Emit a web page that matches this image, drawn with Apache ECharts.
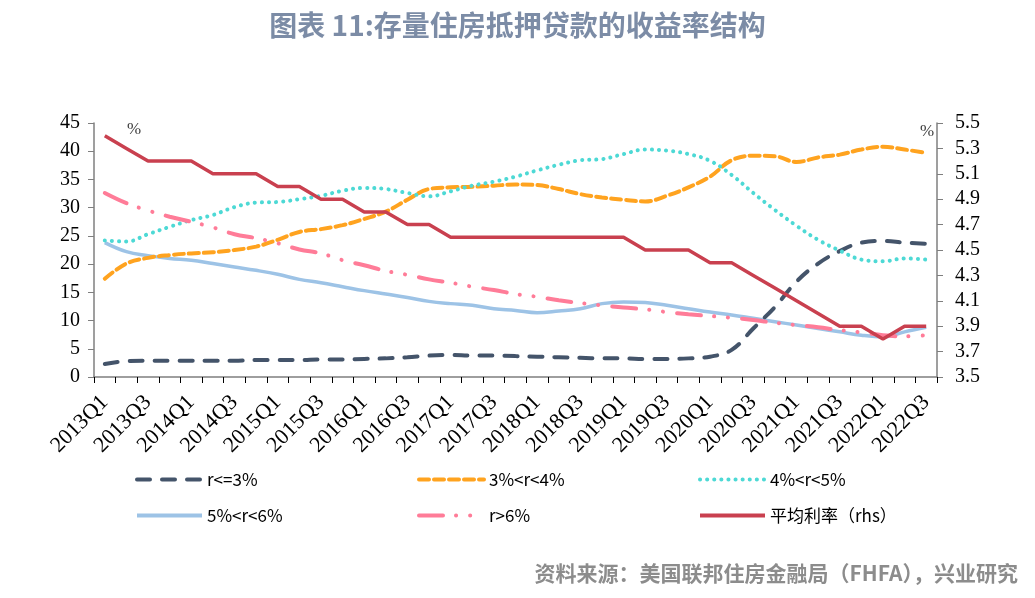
<!DOCTYPE html>
<html>
<head>
<meta charset="utf-8">
<script src="https://cdn.jsdelivr.net/npm/echarts@6/dist/echarts.min.js"></script>
<style>html,body{margin:0;padding:0;background:#fff;}#c{width:1035px;height:598px;}</style>
</head>
<body>
<div id="c"></div>
<script>
var categories = [];
for (var y = 2013; y <= 2022; y++) { for (var q = 1; q <= 4; q++) { if (y === 2022 && q > 3) break; categories.push(y + 'Q' + q); } }

var leftTicks = { min: 0, max: 45, interval: 5 };
var rightTicks = { min: 3.5, max: 5.5, interval: 0.2 };

var rLe3 = [2.3, 2.8, 2.9, 2.9, 2.9, 2.9, 2.9, 3.0, 3.0, 3.0, 3.1, 3.1, 3.2, 3.3, 3.5, 3.8, 3.9, 3.8, 3.8, 3.7, 3.6, 3.5, 3.4, 3.3, 3.3, 3.2, 3.2, 3.3, 3.6, 4.8, 8.6, 12.4, 16.9, 20.1, 22.3, 23.8, 24.1, 23.8, 23.6];
var r3to4 = [17.4, 20.1, 21.1, 21.6, 21.9, 22.1, 22.5, 23.1, 24.3, 25.7, 26.2, 26.9, 28.0, 29.3, 31.4, 33.3, 33.6, 33.7, 33.9, 34.1, 34.0, 33.3, 32.4, 31.8, 31.4, 31.1, 32.1, 33.6, 35.5, 38.4, 39.2, 39.1, 38.1, 38.9, 39.4, 40.3, 40.8, 40.3, 39.7];
var r4to5 = [24.2, 24.0, 25.3, 26.6, 27.8, 28.7, 30.1, 30.9, 31.0, 31.5, 32.1, 33.0, 33.5, 33.3, 32.6, 32.0, 32.9, 33.9, 34.6, 35.5, 36.6, 37.6, 38.4, 38.6, 39.5, 40.3, 40.1, 39.5, 38.3, 35.8, 32.6, 29.6, 26.8, 24.3, 22.4, 20.8, 20.5, 21.0, 20.8];
var r5to6 = [23.8, 22.2, 21.5, 21.0, 20.7, 20.1, 19.5, 18.9, 18.2, 17.3, 16.7, 16.0, 15.3, 14.7, 14.1, 13.4, 13.0, 12.7, 12.1, 11.8, 11.4, 11.7, 12.1, 13.0, 13.3, 13.2, 12.7, 12.1, 11.5, 11.0, 10.4, 9.8, 9.2, 8.6, 8.0, 7.4, 7.1, 8.0, 8.8];
var rGt6 = [32.6, 30.8, 29.5, 28.4, 27.5, 26.5, 25.3, 24.6, 23.7, 22.6, 21.9, 20.7, 19.8, 18.8, 18.1, 17.3, 16.7, 16.0, 15.4, 14.7, 14.2, 13.6, 13.1, 12.7, 12.3, 12.0, 11.5, 11.1, 10.8, 10.5, 10.1, 9.6, 9.2, 8.8, 8.3, 7.9, 7.4, 7.2, 7.4];
var avgRate = [5.4, 5.3, 5.2, 5.2, 5.2, 5.1, 5.1, 5.1, 5.0, 5.0, 4.9, 4.9, 4.8, 4.8, 4.7, 4.7, 4.6, 4.6, 4.6, 4.6, 4.6, 4.6, 4.6, 4.6, 4.6, 4.5, 4.5, 4.5, 4.4, 4.4, 4.3, 4.2, 4.1, 4.0, 3.9, 3.9, 3.8, 3.9, 3.9];

var names = ['r<=3%', '3%<r<4%', '4%<r<5%', '5%<r<6%', 'r>6%', '平均利率（rhs）'];

var chart = echarts.init(document.getElementById('c'));
var serif = 'Liberation Serif';
var cjk = 'Noto Sans CJK SC';
var axisGray = '#7f7f7f';

function legendAt(name, left, top) {
  return {
    data: [name], left: left, top: top, padding: 0,
    itemWidth: 65, itemHeight: 14, selectedMode: false,
    itemStyle: { opacity: 0 },
    lineStyle: { width: 4 },
    textStyle: { fontFamily: cjk, fontSize: 17, color: '#000' }
  };
}

chart.setOption({
  animation: false,
  backgroundColor: '#fff',
  title: [
    { text: '图表 11:存量住房抵押贷款的收益率结构', left: 'center', top: 6,
      textStyle: { fontFamily: cjk, fontSize: 28, fontWeight: 'bold', color: '#7c8ca6' } },
    { text: '资料来源：美国联邦住房金融局（FHFA），兴业研究', right: 12, top: 558,
      textStyle: { fontFamily: cjk, fontSize: 21, fontWeight: 'bold', color: '#8c8c8c' } }
  ],
  legend: [
    legendAt(names[0], 135, 471),
    legendAt(names[1], 417, 471),
    legendAt(names[2], 698, 471),
    legendAt(names[3], 135, 507),
    legendAt(names[4], 417, 507),
    legendAt(names[5], 698, 507)
  ],
  graphic: [
    { type: 'text', left: 127, top: 121, style: { text: '%', font: '17px "Liberation Serif"', fill: '#404040' } },
    { type: 'text', left: 920, top: 123, style: { text: '%', font: '17px "Liberation Serif"', fill: '#404040' } }
  ],
  grid: { left: 94, right: 98, top: 123, bottom: 221, containLabel: false },
  xAxis: {
    type: 'category', data: categories, boundaryGap: true,
    axisLine: { lineStyle: { color: axisGray, width: 1.5 } },
    axisTick: { show: true, interval: 0, length: 6, lineStyle: { color: '#000', width: 1 } },
    axisLabel: { interval: 1, rotate: 45, fontFamily: serif, fontSize: 22, color: '#000', margin: 22 },
    splitLine: { show: false }
  },
  yAxis: [
    { type: 'value', min: leftTicks.min, max: leftTicks.max, interval: leftTicks.interval, position: 'left',
      axisLine: { show: true, lineStyle: { color: axisGray, width: 1.5 } },
      axisTick: { show: true, length: 6, lineStyle: { color: axisGray } },
      axisLabel: { fontFamily: serif, fontSize: 20, color: '#000', margin: 14 },
      splitLine: { show: false } },
    { type: 'value', min: rightTicks.min, max: rightTicks.max, interval: rightTicks.interval, position: 'right',
      axisLine: { show: true, lineStyle: { color: axisGray, width: 1.5 } },
      axisTick: { show: true, length: 6, lineStyle: { color: axisGray } },
      axisLabel: { fontFamily: serif, fontSize: 20, color: '#000', margin: 18,
        formatter: function (v) { return v.toFixed(1); } },
      splitLine: { show: false } }
  ],
  series: [
    { name: names[0], type: 'line', data: rLe3, smooth: 0.4, symbol: 'none', z: 3,
      itemStyle: { color: '#44546a' },
      lineStyle: { color: '#44546a', width: 4, type: [13, 12], cap: 'round' } },
    { name: names[1], type: 'line', data: r3to4, smooth: 0.4, symbol: 'none', z: 3,
      itemStyle: { color: '#ffa31f' },
      lineStyle: { color: '#ffa31f', width: 4, type: [10, 5], cap: 'round' } },
    { name: names[2], type: 'line', data: r4to5, smooth: 0.4, symbol: 'none', z: 3,
      itemStyle: { color: '#4dd9d5' },
      lineStyle: { color: '#4dd9d5', width: 4, type: [0.1, 7], cap: 'round' } },
    { name: names[3], type: 'line', data: r5to6, smooth: 0.4, symbol: 'none', z: 2,
      itemStyle: { color: '#9dc3e6' },
      lineStyle: { color: '#9dc3e6', width: 3.5 } },
    { name: names[4], type: 'line', data: rGt6, smooth: 0.4, symbol: 'none', z: 3,
      itemStyle: { color: '#ff7c98' },
      lineStyle: { color: '#ff7c98', width: 4, type: [24, 13, 0.1, 14, 0.1, 14], cap: 'round' } },
    { name: names[5], type: 'line', data: avgRate, yAxisIndex: 1, smooth: false, symbol: 'none', z: 4,
      itemStyle: { color: '#c9404f' },
      lineStyle: { color: '#c9404f', width: 3.5 } }
  ]
});
</script>
</body>
</html>
